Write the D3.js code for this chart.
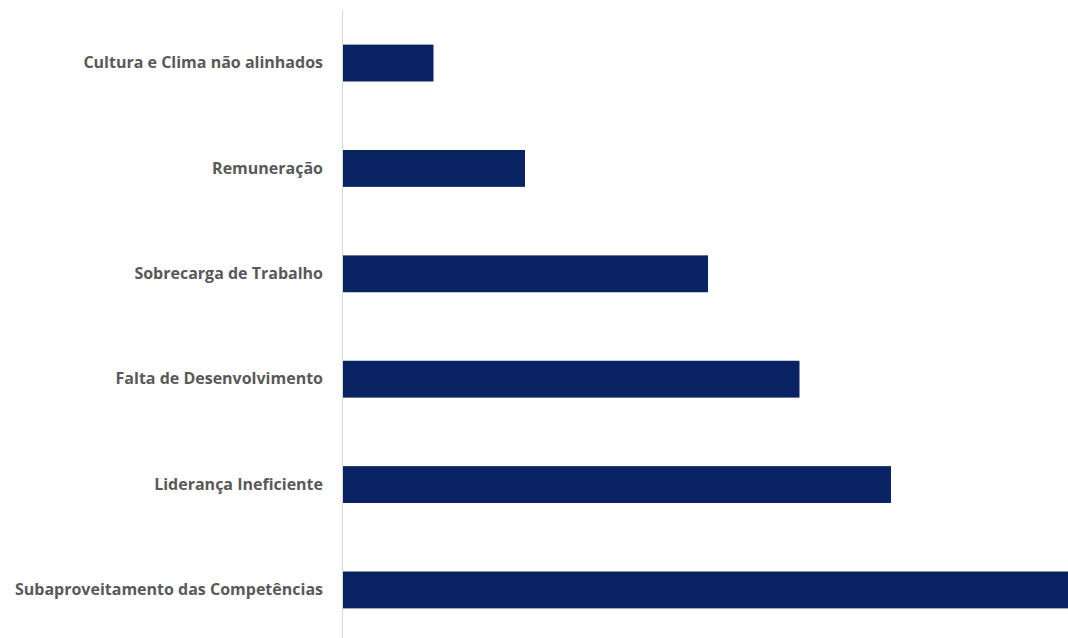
<!DOCTYPE html>
<html>
<head>
<meta charset="utf-8">
<script src="https://cdn.jsdelivr.net/npm/d3@7"></script>
<style>
  body { margin: 0; background: #fff; }
  svg { display: block; }
</style>
</head>
<body>
<div id="chart"></div>
<script>
// categories top to bottom, and how many times each was cited
var categories = ["Cultura e Clima não alinhados", "Remuneração", "Sobrecarga de Trabalho",
                  "Falta de Desenvolvimento", "Liderança Ineficiente", "Subaproveitamento das Competências"];
var values = [1, 2, 4, 5, 6, 8];

var width = 1068, height = 638;
var svg = d3.select("#chart").append("svg")
    .attr("width", width)
    .attr("height", height);

var x = d3.scaleLinear()
    .domain([0, 8])
    .range([342, 1074]);

var y = d3.scaleBand()
    .domain(categories)
    .range([13, 640])
    .paddingInner(0.65)
    .paddingOuter(0.3);

// bars
svg.append("g")
    .selectAll("rect")
    .data(values)
    .enter()
    .append("rect")
    .attr("x", x(0))
    .attr("y", function(d, i){ return y(categories[i]); })
    .attr("width", function(d){ return x(d) - x(0); })
    .attr("height", y.bandwidth())
    .style("fill", "#0a2463");

// vertical category axis, labels only
var yAxis = svg.append("g")
    .attr("transform", "translate(" + x(0) + ",0)")
    .call(d3.axisLeft(y).tickSize(0).tickPadding(19));
yAxis.select(".domain").remove();
yAxis.selectAll("text")
    .style("font-family", "'Open Sans', sans-serif")
    .style("font-weight", "bold")
    .style("font-size", "16px")
    .style("fill", "#595959");

svg.append("line")
    .attr("x1", x(0) + 0.5).attr("x2", x(0) + 0.5)
    .attr("y1", 10).attr("y2", height)
    .style("stroke", "#d9d9d9")
    .style("stroke-width", 1);
</script>
</body>
</html>
